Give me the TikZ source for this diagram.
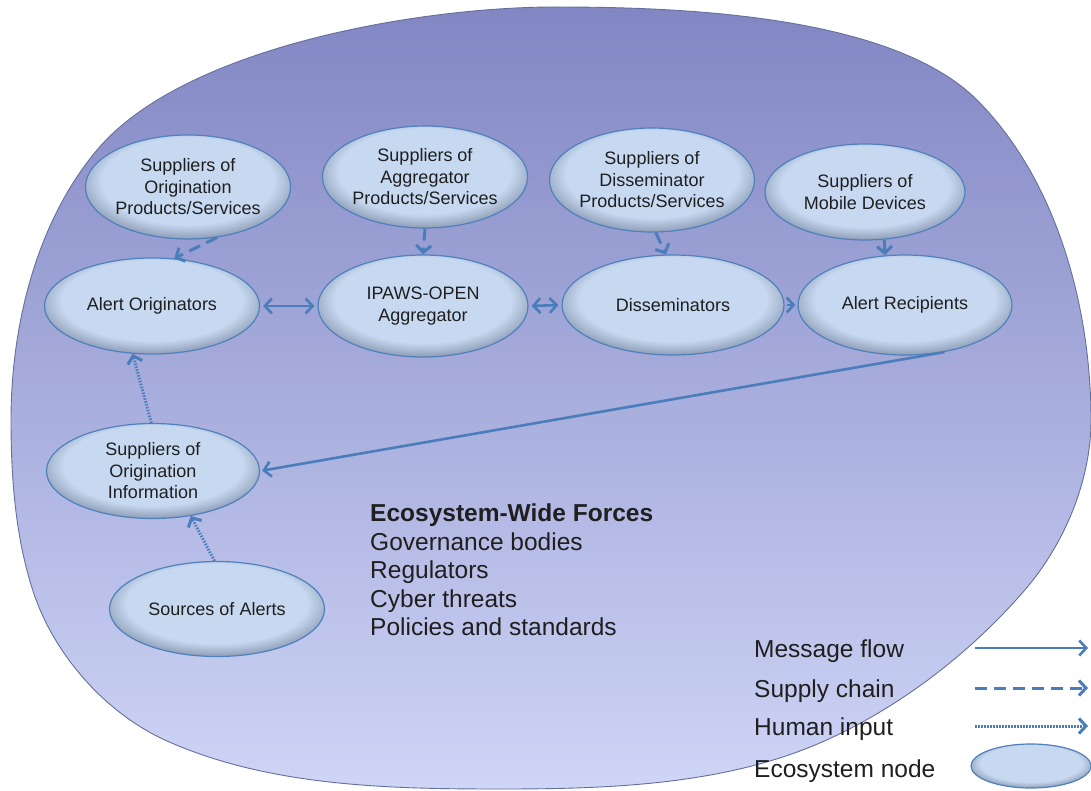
\documentclass[tikz,border=0pt]{standalone}
\usepackage{fontspec}
\setmainfont{Liberation Sans}
\usetikzlibrary{shapes.geometric,arrows.meta}

\definecolor{flowblue}{RGB}{74,126,187}
\definecolor{nodeline}{RGB}{79,129,189}
\definecolor{nodefill}{RGB}{199,217,241}
\definecolor{nodeshadow}{RGB}{118,132,158}
\definecolor{ecotop}{RGB}{130,134,195}
\definecolor{ecobottom}{RGB}{206,213,246}
\definecolor{ecoline}{RGB}{100,112,155}

\pgfdeclareradialshading{nodeshade}{\pgfpoint{0bp}{5bp}}{color(0bp)=(nodefill); color(21bp)=(nodefill); color(30bp)=(nodeshadow); color(50bp)=(nodeshadow)}

\tikzset{
  ecnode/.style={ellipse, draw=nodeline, line width=1.2pt, shade, shading=nodeshade,
    align=center, inner sep=0pt, text=black!88},
  flow/.style={flowblue, line width=2.6pt},
  supply/.style={flowblue, line width=3pt, dash pattern=on 12pt off 7pt, ->},
  human/.style={flowblue, line width=3pt, dash pattern=on 1.5pt off 1.5pt, ->},
  bigtext/.style={inner sep=0pt, text=black!88, font=\fontsize{24.5}{28.5}\selectfont}
}

\begin{document}
\begin{tikzpicture}[x=1pt, y=-1pt, >={Straight Barb[length=7pt,width=15pt]},
  every node/.style={font=\fontsize{18}{21.5}\selectfont}]
\useasboundingbox (0,0) rectangle (1091,791);

% Ecosistema (fondo)
\shadedraw[top color=ecotop, bottom color=ecobottom, draw=ecoline, line width=0.9pt, looseness=0.85]
  (555,7) to[out=0,in=135,looseness=0.72] (977,100) to[out=-45,in=90] (1091,420)
  to[out=-90,in=49] (1024,591) to[out=-131,in=25] (831,738)
  to[out=-155,in=0] (500,789) to[out=180,in=-24] (167,741)
  to[out=156,in=-72] (33,591) to[out=108,in=-90] (11,420)
  to[out=90,in=-130] (97,150) to[out=50,in=180,looseness=0.72] (555,7) -- cycle;

% Fornitori (riga alta)
\node[ecnode, minimum width=196pt, minimum height=104pt] (supOrig) at (188,187) {Suppliers of\\Origination\\Products/Services};
\node[ecnode, minimum width=186pt, minimum height=102pt] (supAgg) at (425,177) {Suppliers of\\Aggregator\\Products/Services};
\node[ecnode, minimum width=200pt, minimum height=104pt] (supDis) at (652,180) {Suppliers of\\Disseminator\\Products/Services};
\node[ecnode, minimum width=200pt, minimum height=96pt] (supMob) at (865,192) {Suppliers of\\Mobile Devices};

% Catena del messaggio
\node[ecnode, minimum width=215pt, minimum height=96pt] (orig) at (152,306) {Alert Originators};
\node[ecnode, minimum width=210pt, minimum height=102pt] (ipaws) at (423,306) {IPAWS-OPEN\\Aggregator};
\node[ecnode, minimum width=222pt, minimum height=100pt] (diss) at (673,305) {Disseminators};
\node[ecnode, minimum width=214pt, minimum height=100pt] (recip) at (905,305) {Alert Recipients};

% Origine delle informazioni
\node[ecnode, minimum width=213pt, minimum height=95pt] (supInfo) at (153,471) {Suppliers of\\Origination\\Information};
\node[ecnode, minimum width=215pt, minimum height=95pt] (sources) at (217,609) {Sources of Alerts};

% Supply chain
\draw[supply] (supOrig.-60) -- (orig.65);
\draw[supply] (supAgg.south) -- (ipaws.north);
\draw[supply] (supDis.-86) -- (diss.98);
\draw[supply] (supMob.-68) -- (recip.112);

% Message flow
\draw[flow, <->, shorten <=3pt, shorten >=3pt] (orig.east) -- (ipaws.west);
\draw[flow, <->, shorten <=3pt, shorten >=3pt] (ipaws.east) -- (diss.west);
\draw[flow, ->, shorten <=2pt, shorten >=2pt] (diss.east) -- (recip.west);
\draw[flow, ->, shorten >=2pt] (recip.-50) -- (supInfo.east);

% Human input
\draw[human] (supInfo.92) -- (orig.-112);
\draw[human] (sources.93) -- (supInfo.-50);

% Forze dell'ecosistema
\node[bigtext, anchor=north west, align=left] (forces) at (370,504)
  {\textbf{Ecosystem-Wide Forces}\\Governance bodies\\Regulators\\Cyber threats\\Policies and standards};

% Legenda
\node[bigtext, anchor=base west] (lgFlow) at (754,657) {Message flow};
\node[bigtext, anchor=base west] (lgSupply) at (754,697) {Supply chain};
\node[bigtext, anchor=base west] (lgHuman) at (754,735) {Human input};
\node[bigtext, anchor=base west] (lgNode) at (754,777) {Ecosystem node};
\coordinate (fa) at (975,648); \coordinate (fb) at (1088,648);
\coordinate (sa) at (975,688); \coordinate (sb) at (1088,688);
\coordinate (ha) at (975,726); \coordinate (hb) at (1088,726);
\draw[flow, ->] (fa) -- (fb);
\draw[supply] (sa) -- (sb);
\draw[human] (ha) -- (hb);
\node[ecnode, minimum width=120pt, minimum height=44pt] (lgEllipse) at (1031,766) {};

\end{tikzpicture}
\end{document}
